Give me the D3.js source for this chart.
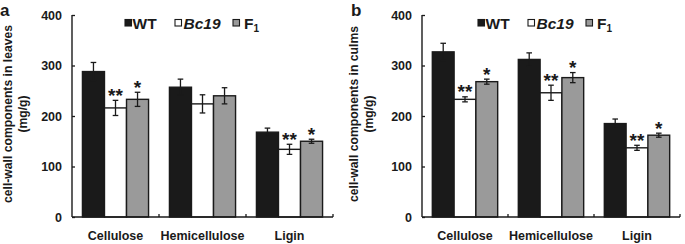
<!DOCTYPE html>
<html><head><meta charset="utf-8">
<script src="https://cdn.jsdelivr.net/npm/d3@7"></script>
<style>body{margin:0;background:#fff}svg{display:block}text{font-family:"Liberation Sans",Arial,sans-serif;font-weight:bold;fill:#1a1a1a}</style>
</head><body>
<script>
const categories = ["Cellulose", "Hemicellulose", "Ligin"];
const series = ["WT", "Bc19", "F1"];
const yTicks = [0, 100, 200, 300, 400];
// panel a: leaves
const leavesWT = [288, 257, 168];
const leavesBc19 = [216, 224, 134];
const leavesF1 = [233, 240, 150];
const leavesErrWT = [18, 16, 8];
const leavesErrBc19 = [15, 18, 10];
const leavesErrF1 = [14, 16, 4];
const leavesSig = [["", "**", "*"], ["", "", ""], ["", "**", "*"]];
// panel b: culms
const culmsWT = [327, 312, 185];
const culmsBc19 = [233, 246, 137];
const culmsF1 = [268, 276, 162];
const culmsErrWT = [17, 13, 9];
const culmsErrBc19 = [5, 15, 5];
const culmsErrF1 = [5, 10, 4];
const culmsSig = [["", "**", "*"], ["", "**", "*"], ["", "**", "*"]];

const colors = {WT: "#1a1a1a", Bc19: "#ffffff", F1: "#9a9a9a"};
const W = 685, H = 244;
const svg = d3.select("body").append("svg").attr("width", W).attr("height", H);

function panel(opt) {
  const g = svg.append("g");
  const x0 = d3.scaleBand().domain(categories).range([opt.x0, opt.x1]).paddingInner(0.24).paddingOuter(0.12);
  const x1 = d3.scaleBand().domain(series).range([0, x0.bandwidth()]).padding(0);
  const y = d3.scaleLinear().domain([0, 400]).range([217, 15]);
  const vals = {WT: opt.wt, Bc19: opt.bc, F1: opt.f1};
  const errs = {WT: opt.ewt, Bc19: opt.ebc, F1: opt.ef1};

  // bars
  categories.forEach((c, ci) => {
    series.forEach((s, si) => {
      const v = vals[s][ci], e = errs[s][ci];
      const bx = x0(c) + x1(s), bw = x1.bandwidth();
      g.append("rect").attr("x", bx).attr("y", y(v)).attr("width", bw).attr("height", y(0) - y(v))
        .attr("fill", colors[s]).attr("stroke", "#1a1a1a").attr("stroke-width", 1.4);
      const cx = bx + bw / 2;
      const eb = g.append("g").attr("stroke", "#1a1a1a").attr("stroke-width", 1.3);
      eb.append("line").attr("x1", cx).attr("x2", cx).attr("y1", y(v - e)).attr("y2", y(v + e));
      eb.append("line").attr("x1", cx - 2.8).attr("x2", cx + 2.8).attr("y1", y(v + e)).attr("y2", y(v + e));
      eb.append("line").attr("x1", cx - 2.8).attr("x2", cx + 2.8).attr("y1", y(v - e)).attr("y2", y(v - e));
      const sig = opt.sig[ci][si];
      if (sig) {
        g.append("text").attr("x", cx).attr("y", y(v + e) + 1.5).attr("text-anchor", "middle")
          .style("font-size", "19px").text(sig);
      }
    });
  });

  // y axis
  const ya = g.append("g").attr("transform", `translate(${opt.x0},0)`)
    .call(d3.axisRight(y).tickValues(yTicks).tickSize(3).tickFormat(""));
  ya.select(".domain").attr("d", `M0,${y(400)}V${y(0)}`).attr("stroke", "#1a1a1a").attr("stroke-width", 1.4);
  ya.selectAll(".tick line").attr("stroke", "#1a1a1a").attr("stroke-width", 1.3);
  g.selectAll(".ylab").data(yTicks).enter().append("text")
    .attr("x", opt.x0 - 10).attr("y", d => y(d)).attr("dy", "0.36em").attr("text-anchor", "end")
    .style("font-size", "12.5px").text(d => d);

  // x axis
  g.append("line").attr("x1", opt.x0).attr("x2", opt.x1).attr("y1", y(0)).attr("y2", y(0))
    .attr("stroke", "#1a1a1a").attr("stroke-width", 1.4);
  const step = x0.step();
  [1, 2, 3].forEach(i => {
    const tx = opt.x0 + i * step;
    g.append("line").attr("x1", tx).attr("x2", tx).attr("y1", y(0)).attr("y2", y(0) - 3)
      .attr("stroke", "#1a1a1a").attr("stroke-width", 1.3);
  });
  g.selectAll(".xlab").data(categories).enter().append("text")
    .attr("x", d => x0(d) + x0.bandwidth() / 2).attr("y", 240).attr("text-anchor", "middle")
    .style("font-size", "12.5px").text(d => d);

  // y title
  const yt = g.append("text").attr("transform", `translate(${opt.tx},114) rotate(-90)`)
    .attr("text-anchor", "middle").style("font-size", "12.2px");
  yt.append("tspan").attr("x", 0).attr("y", 0).text(opt.title);
  yt.append("tspan").attr("x", 0).attr("y", 15.5).text("(mg/g)");

  // panel letter
  g.append("text").attr("x", opt.lx).attr("y", 16).style("font-size", "17px").text(opt.letter);

  // legend
  const lg = g.append("g").attr("transform", `translate(${opt.legX},0)`);
  const items = [
    {s: "WT", sx: 0, tx: 7.5},
    {s: "Bc19", sx: 50, tx: 58.5},
    {s: "F1", sx: 108, tx: 119}
  ];
  items.forEach(it => {
    lg.append("rect").attr("x", it.sx).attr("y", 19.5).attr("width", 6.5).attr("height", 6.5)
      .attr("fill", colors[it.s]).attr("stroke", "#1a1a1a").attr("stroke-width", 1.1);
    const t = lg.append("text").attr("x", it.tx).attr("y", 29).style("font-size", "15.5px");
    if (it.s === "Bc19") t.style("font-style", "italic").text("Bc19");
    else if (it.s === "F1") { t.append("tspan").text("F"); t.append("tspan").attr("dy", 3).style("font-size", "10px").text("1"); }
    else t.text(it.s);
  });
}

panel({x0: 72, x1: 333, wt: leavesWT, bc: leavesBc19, f1: leavesF1, ewt: leavesErrWT, ebc: leavesErrBc19, ef1: leavesErrF1,
  sig: leavesSig, title: "cell-wall components in leaves", tx: 11.5, lx: 0, letter: "a", legX: 125});
panel({x0: 422, x1: 680, wt: culmsWT, bc: culmsBc19, f1: culmsF1, ewt: culmsErrWT, ebc: culmsErrBc19, ef1: culmsErrF1,
  sig: culmsSig, title: "cell-wall components in culms", tx: 357.5, lx: 351, letter: "b", legX: 478});
</script>
</body></html>
